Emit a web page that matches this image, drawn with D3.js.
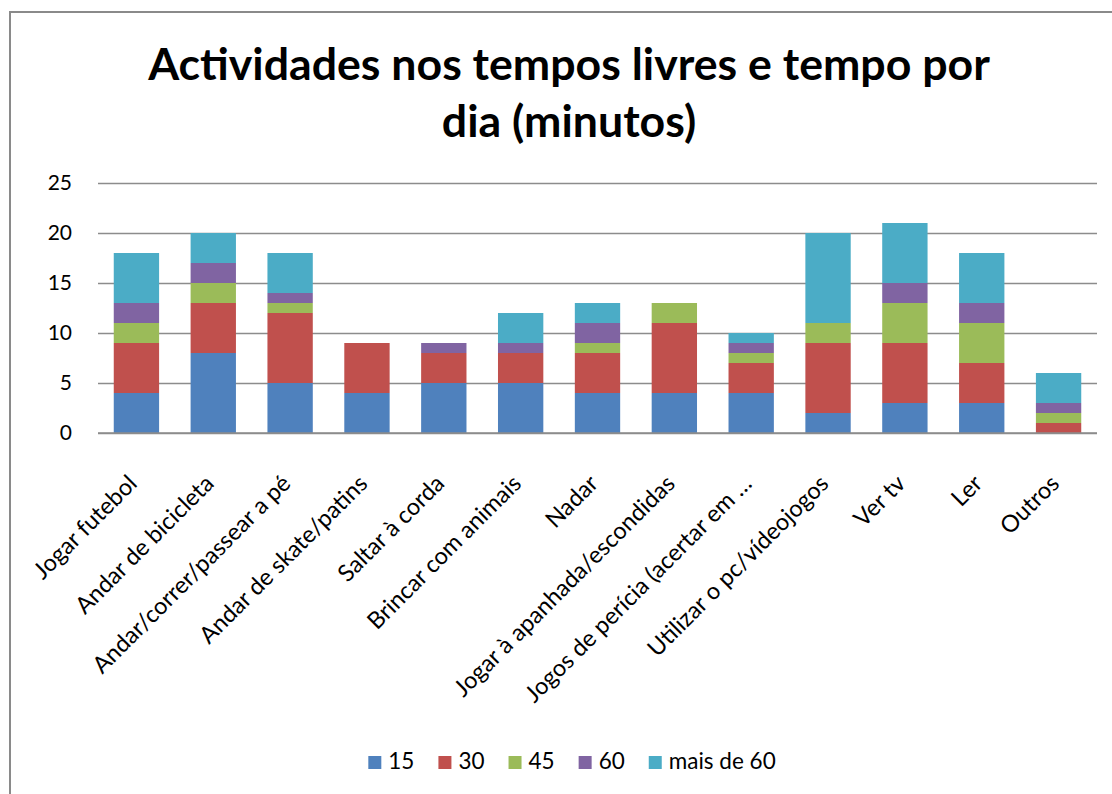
<!DOCTYPE html>
<html>
<head>
<meta charset="utf-8">
<script src="https://cdn.jsdelivr.net/npm/d3@7"></script>
<style>
  html, body { margin: 0; padding: 0; background: #fff; }
  svg { display: block; }
  text { font-family: Lato, "Open Sans", sans-serif; fill: #000; }
</style>
</head>
<body>
<svg id="chart" width="1112" height="794"></svg>
<script>
// Activities and minutes per day
const categories = [
  "Jogar futebol", "Andar de bicicleta", "Andar/correr/passear a pé",
  "Andar de skate/patins", "Saltar à corda", "Brincar com animais",
  "Nadar", "Jogar à apanhada/escondidas", "Jogos de perícia (acertar em …",
  "Utilizar o pc/vídeojogos", "Ver tv", "Ler", "Outros"
];
const seriesNames = ["15", "30", "45", "60", "mais de 60"];
const v15     = [4, 8, 5, 4, 5, 5, 4, 4, 4, 2, 3, 3, 0];
const v30     = [5, 5, 7, 5, 3, 3, 4, 7, 3, 7, 6, 4, 1];
const v45     = [2, 2, 1, 0, 0, 0, 1, 2, 1, 2, 4, 4, 1];
const v60     = [2, 2, 1, 0, 1, 1, 2, 0, 1, 0, 2, 2, 1];
const vMais60 = [5, 3, 4, 0, 0, 3, 2, 0, 1, 9, 6, 5, 3];
const yTicks  = [0, 5, 10, 15, 20, 25];
const colors  = ["#4F81BD", "#C0504D", "#9BBB59", "#8064A2", "#4BACC6"];

const seriesValues = [v15, v30, v45, v60, vMais60];
const rows = categories.map((c, i) => {
  const r = { cat: c };
  seriesNames.forEach((s, k) => { r[s] = seriesValues[k][i]; });
  return r;
});

const svg = d3.select("#chart");
const W = 1112, H = 794;

// outer frame (extends past the right and bottom edges)
svg.append("rect")
  .attr("x", 10).attr("y", 12)
  .attr("width", W + 20).attr("height", H + 20)
  .attr("fill", "#fff").attr("stroke", "#8a8a8a").attr("stroke-width", 2);

const plot = { left: 98, right: 1097, top: 183, bottom: 433 };

const x = d3.scaleBand().domain(categories)
  .range([plot.left, plot.right]).paddingInner(0.41).paddingOuter(0.205);
const y = d3.scaleLinear().domain([0, 25]).range([plot.bottom, plot.top]);

// gridlines and y labels
const yAxis = d3.axisLeft(y).tickValues(yTicks)
  .tickSize(-(plot.right - plot.left)).tickPadding(26);
const gy = svg.append("g").attr("transform", `translate(${plot.left},0)`).call(yAxis);
gy.select(".domain").remove();
gy.selectAll(".tick line").attr("stroke", "#8c8c8c").attr("stroke-width", 1.3);
gy.selectAll(".tick text")
  .style("font-family", "Lato, sans-serif").style("font-size", "21px")
  .attr("fill", "#1a1a1a");

// stacked bars
const stack = d3.stack().keys(seriesNames)(rows);
const color = d3.scaleOrdinal().domain(seriesNames).range(colors);
svg.append("g").selectAll("g").data(stack).join("g")
  .attr("fill", d => color(d.key))
  .selectAll("rect").data(d => d.filter(p => p[1] > p[0])).join("rect")
  .attr("x", d => x(d.data.cat))
  .attr("width", x.bandwidth())
  .attr("y", d => y(d[1]))
  .attr("height", d => y(d[0]) - y(d[1]));

// baseline
svg.append("line")
  .attr("x1", plot.left).attr("x2", plot.right)
  .attr("y1", y(0)).attr("y2", y(0))
  .attr("stroke", "#8c8c8c").attr("stroke-width", 1.5);

// rotated category labels
const xAxis = d3.axisBottom(x).tickSize(0).tickPadding(0);
const gx = svg.append("g").attr("transform", `translate(0,${plot.bottom})`).call(xAxis);
gx.select(".domain").remove();
gx.selectAll(".tick text")
  .style("font-family", "Lato, sans-serif").style("font-size", "23.5px")
  .attr("fill", "#000")
  .attr("text-anchor", "end")
  .attr("dy", "0")
  .attr("transform", "translate(2,52) rotate(-45)");

// title
const title = svg.append("g").attr("font-weight", "bold");
const titleLines = ["Actividades nos tempos livres e tempo por", "dia (minutos)"];
const t1 = title.append("text").attr("x", 569).attr("y", 80)
  .attr("text-anchor", "middle").style("font-size", "40px").text(titleLines[0]);
const w1 = t1.node().getComputedTextLength();
const titleSize = 40 * 842 / w1;
t1.style("font-size", titleSize + "px");
title.append("text").attr("x", 569).attr("y", 137)
  .attr("text-anchor", "middle").style("font-size", titleSize + "px").text(titleLines[1]);

// legend
const legend = svg.append("g");
let lx = 0;
seriesNames.forEach((s, i) => {
  const g = legend.append("g");
  g.append("rect").attr("x", 0).attr("y", -13).attr("width", 13).attr("height", 13)
    .attr("fill", colors[i]);
  const t = g.append("text").attr("x", 20).attr("y", 0)
    .style("font-size", "22.5px").attr("fill", "#1a1a1a").text(s);
  const w = 20 + t.node().getComputedTextLength();
  g.attr("transform", `translate(${lx},0)`);
  lx += w + 24;
});
const legendWidth = lx - 24;
legend.attr("transform", `translate(${572 - legendWidth / 2},769)`);
</script>
</body>
</html>
